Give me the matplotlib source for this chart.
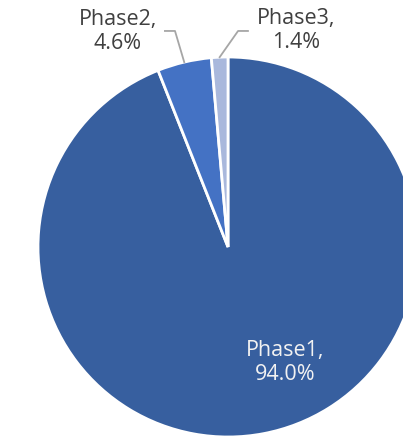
import numpy as np
import matplotlib
matplotlib.use("Agg")
import matplotlib.pyplot as plt

categories = ["Phase1", "Phase2", "Phase3"]
values = [94.0, 4.6, 1.4]
value_labels = ["94.0%", "4.6%", "1.4%"]
colors = ["#375F9F", "#4472C4", "#A9B8DC"]

plt.rcParams['font.family'] = ['Open Sans', 'DejaVu Sans']

fig = plt.figure(figsize=(4.03, 4.36), dpi=100)
W, H = 403, 436
cx, cy, r = 228, 247, 190
ax = fig.add_axes([(cx - r) / W, (H - cy - r) / H, 2 * r / W, 2 * r / H])

wedges, _ = ax.pie(values, colors=colors, startangle=90, counterclock=False,
                   radius=1.0, wedgeprops=dict(edgecolor="white", linewidth=2))
ax.set_xlim(-1, 1)
ax.set_ylim(-1, 1)
ax.axis("off")

fs = 15.5
# Phase1 label inside
ax.text(0.30, -0.61, f"{categories[0]},\n{value_labels[0]}", ha="center", va="center",
        fontsize=fs, color="#F2F2F2", linespacing=1.2)

# outside labels with leader lines
label_pos = {1: (-0.58, 1.135), 2: (0.36, 1.14)}
elbows = {1: [(-0.279, 1.137), (-0.332, 1.137)], 2: [(0.053, 1.137), (0.105, 1.137)]}
for i in (1, 2):
    w = wedges[i]
    ang = np.deg2rad((w.theta1 + w.theta2) / 2)
    ax0, ay0 = np.cos(ang), np.sin(ang)
    pts = [(ax0, ay0)] + elbows[i]
    xs, ys = zip(*pts)
    ax.plot(xs, ys, color="#A6A6A6", lw=1.3, clip_on=False)
    ax.text(label_pos[i][0], label_pos[i][1], f"{categories[i]},\n{value_labels[i]}",
            ha="center", va="center", fontsize=fs, color="#404040", linespacing=1.2)

fig.savefig("out.png", dpi=100)
